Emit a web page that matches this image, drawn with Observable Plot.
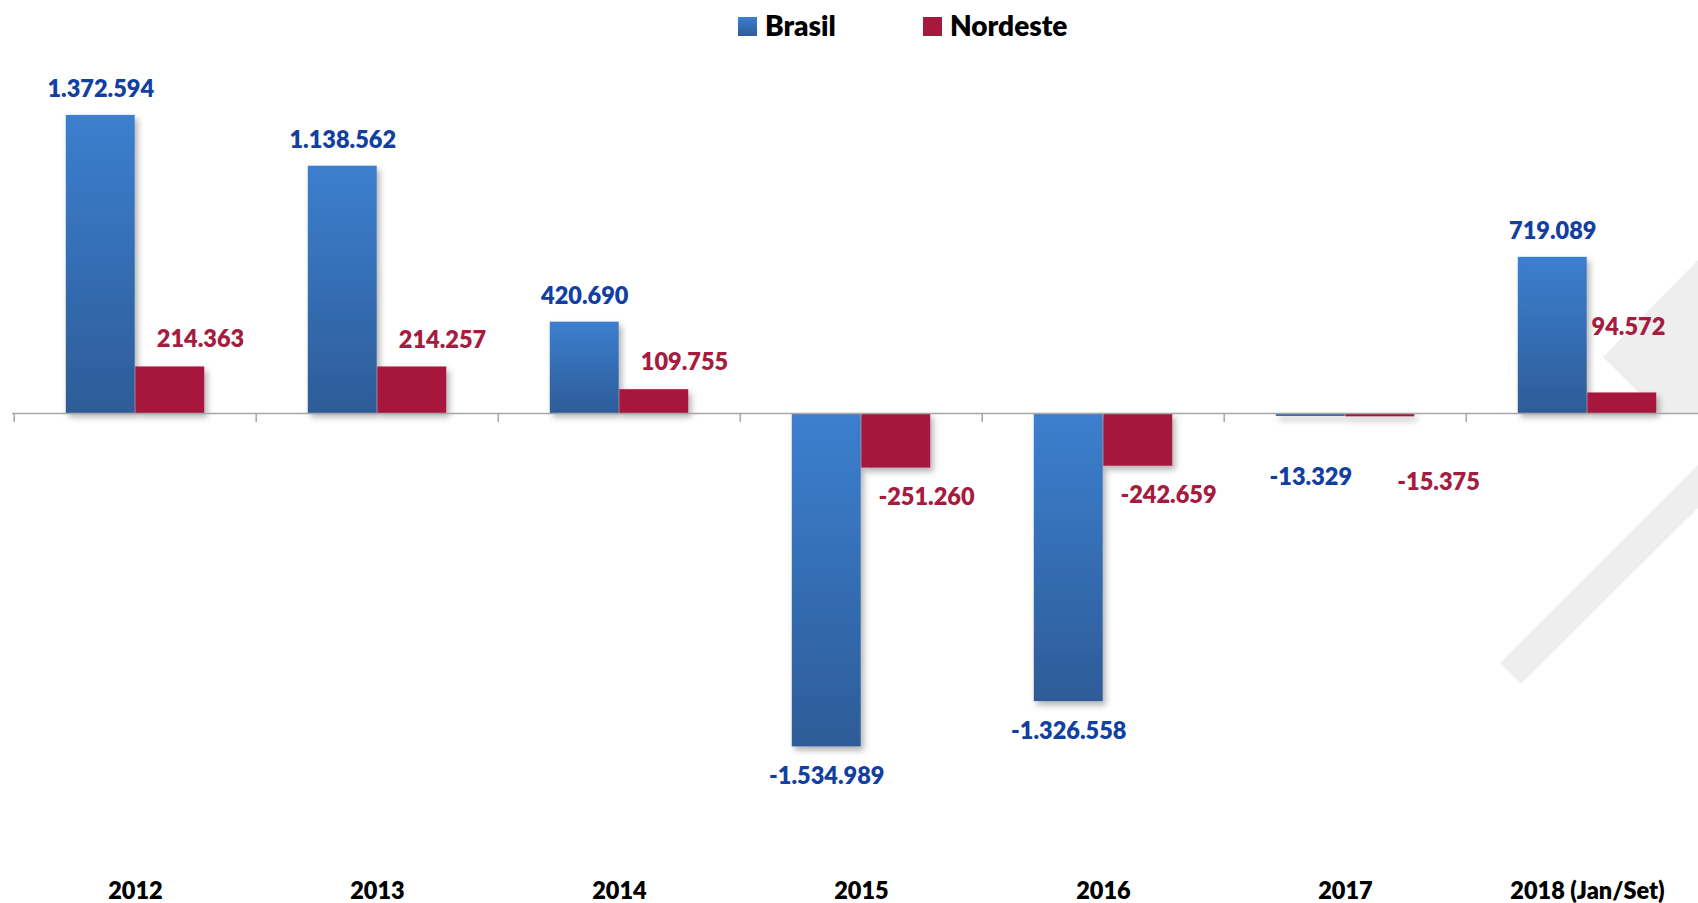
<!DOCTYPE html>
<html>
<head>
<meta charset="utf-8">
<script src="https://cdn.jsdelivr.net/npm/d3@7"></script>
<script src="https://cdn.jsdelivr.net/npm/@observablehq/plot@0.6"></script>
<style>
  html, body { margin: 0; padding: 0; background: #fff; }
  #wrap { width: 1698px; height: 903px; position: relative; overflow: hidden; font-family: Lato, "Open Sans", sans-serif; }
  #legend { position: relative; height: 50px; }
  #legend .sw { position: absolute; top: 17px; width: 19px; height: 19px; }
  #legend .lb { position: absolute; top: 11px; font: 800 28px Lato, sans-serif; line-height: 28px; color: #000; }
</style>
</head>
<body>
<div id="wrap">
  <div id="legend">
    <span class="sw" style="left:738px;background:linear-gradient(#3C7FCF,#2D5C98)"></span>
    <span class="lb" style="left:765px">Brasil</span>
    <span class="sw" style="left:923px;background:#A6193C"></span>
    <span class="lb" style="left:950px">Nordeste</span>
  </div>
  <div id="chart"></div>
</div>
<script>
// ---- data ----
const years = ["2012", "2013", "2014", "2015", "2016", "2017", "2018 (Jan/Set)"];
const brasil = [1372594, 1138562, 420690, -1534989, -1326558, -13329, 719089];
const nordeste = [214363, 214257, 109755, -251260, -242659, -15375, 94572];
const seriesNames = ["Brasil", "Nordeste"];

// ---- styling / layout ----
const W = 1698, H = 853;
const xRange = [12, 1710];
const step = (xRange[1] - xRange[0]) / years.length;
const barW = 69.5;
const blueText = "#123FA0", redText = "#A51C3F", redFill = "#A6193C";
const fmt = d3.formatLocale({decimal: ",", thousands: ".", grouping: [3], currency: ["R$", ""], minus: "-"}).format(",d");

const rowsB = years.map((y, i) => ({year: y, series: seriesNames[0], value: brasil[i]}));
const rowsN = years.map((y, i) => ({year: y, series: seriesNames[1], value: nordeste[i]}));

// label offsets (Excel placed a few labels manually)
const nudges = {
  "Brasil|2017": {dy: 61},
  "Nordeste|2017": {dx: 93, dy: 66},
  "Nordeste|2018 (Jan/Set)": {dx: 41, dy: -66}
};
function labelMark(d) {
  const isB = d.series === "Brasil";
  const base = isB ? {dx: -barW / 2, dy: d.value >= 0 ? -26 : 30}
                   : {dx: 65, dy: d.value >= 0 ? -27 : 29};
  const n = nudges[d.series + "|" + d.year] || {};
  return Plot.text([d], {
    x: "year", y: "value", text: r => fmt(r.value),
    dx: n.dx ?? base.dx, dy: n.dy ?? base.dy,
    fill: isB ? blueText : redText,
    fontSize: 23.5, fontWeight: 800, fontFamily: "Lato"
  });
}

const chart = Plot.plot({
  width: W, height: H,
  marginLeft: 12, marginRight: 0, marginTop: 0, marginBottom: 0,
  style: {fontFamily: "Lato", background: "transparent"},
  x: {domain: years, range: xRange, padding: 0, axis: null},
  y: {domain: [-2000000, 1600000], range: [797.4, 15.5], axis: null},
  marks: [
    Plot.barY(rowsB, {x: "year", y: "value", fill: "url(#gradBrasil)", insetLeft: step / 2 - barW, insetRight: step / 2}),
    Plot.barY(rowsN, {x: "year", y: "value", fill: redFill, insetLeft: step / 2, insetRight: step / 2 - barW}),
    Plot.ruleY([0], {stroke: "#A6A6A6", strokeWidth: 1.5}),
    Plot.ruleX(years, {x: d => d, y1: 0, y2: 0, insetBottom: -9, dx: -step / 2, stroke: "#A6A6A6", strokeWidth: 1.5}),
    ...rowsB.map(labelMark),
    ...rowsN.map(labelMark),
    Plot.text(years, {x: d => d, frameAnchor: "bottom", dy: -4.5, fill: "#000", fontSize: 23.5, fontWeight: 800, fontFamily: "Lato"})
  ]
});

// defs: gradient + shadow, and decorative watermark
const svg = d3.select(chart);
const defs = svg.insert("defs", ":first-child");
const g = defs.append("linearGradient").attr("id", "gradBrasil").attr("x1", 0).attr("y1", 0).attr("x2", 0).attr("y2", 1);
g.append("stop").attr("offset", "0%").attr("stop-color", "#3C7FCF");
g.append("stop").attr("offset", "100%").attr("stop-color", "#2D5C98");
const f = defs.append("filter").attr("id", "shadow").attr("x", "-20%").attr("y", "-20%").attr("width", "150%").attr("height", "150%");
f.append("feDropShadow").attr("dx", 3).attr("dy", 4).attr("stdDeviation", 3).attr("flood-color", "#000").attr("flood-opacity", 0.3);
svg.selectAll('g[aria-label="bar"]').attr("filter", "url(#shadow)");

const wm = svg.insert("g", "defs + *").attr("fill", "#EEEEEE");
wm.append("polygon").attr("points", "1698,210 1603,307 1659,363 1698,363");
wm.append("polygon").attr("points", "1698,415 1500,613 1521,634 1698,458");

document.getElementById("chart").appendChild(chart);
</script>
</body>
</html>
